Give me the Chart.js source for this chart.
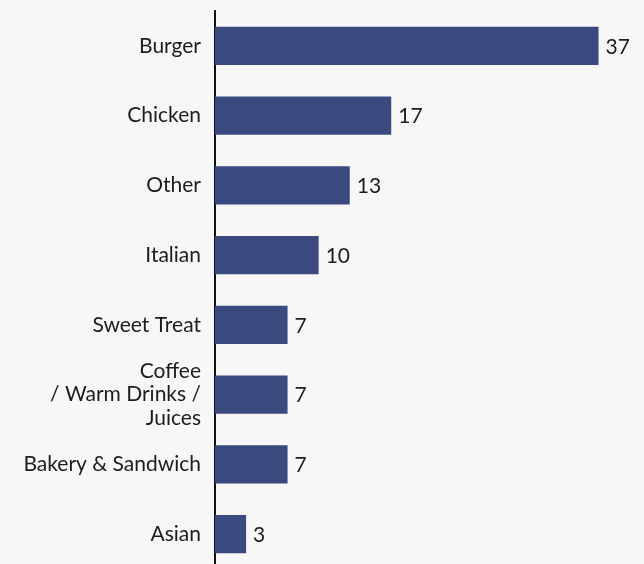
<!DOCTYPE html>
<html>
<head>
<meta charset="utf-8">
<script src="https://cdn.jsdelivr.net/npm/chart.js@4"></script>
<style>
  html, body { margin: 0; padding: 0; background: #f7f7f7; overflow: hidden; }
  #wrap { width: 644px; height: 570px; }
</style>
</head>
<body>
<div id="wrap"><canvas id="chart"></canvas></div>
<script>
const categories = [
  'Burger',
  'Chicken',
  'Other',
  'Italian',
  'Sweet Treat',
  ['Coffee', '/ Warm Drinks /', 'Juices'],
  'Bakery & Sandwich',
  'Asian'
];
const counts = [37, 17, 13, 10, 7, 7, 7, 3];

const barColor = '#3b4a7e';
const textColor = '#1c1c1c';
const fontFamily = 'Lato, "Noto Sans", sans-serif';

// draws the number just right of each bar
const valueLabels = {
  id: 'valueLabels',
  afterDatasetsDraw(chart) {
    const ctx = chart.ctx;
    const meta = chart.getDatasetMeta(0);
    ctx.save();
    ctx.font = '21px ' + fontFamily;
    ctx.fillStyle = textColor;
    ctx.textAlign = 'left';
    ctx.textBaseline = 'middle';
    meta.data.forEach((bar, i) => {
      ctx.fillText(String(counts[i]), bar.x + 7, bar.y + 1);
    });
    ctx.restore();
  }
};

const ctx = document.getElementById('chart').getContext('2d');
const chart = new Chart(ctx, {
  type: 'bar',
  data: {
    labels: categories,
    datasets: [{
      data: counts,
      backgroundColor: barColor,
      barPercentage: 0.545,
      categoryPercentage: 1
    }]
  },
  options: {
    indexAxis: 'y',
    responsive: true,
    maintainAspectRatio: false,
    animation: false,
    layout: { padding: { top: 11, bottom: 1, left: 0, right: 4 } },
    scales: {
      x: {
        display: false,
        min: 0,
        max: 41
      },
      y: {
        afterFit: (scale) => {
          scale.width = 215;
          scale.paddingTop = 0;
          scale.paddingBottom = 0;
        },
        grid: { display: false, drawTicks: false },
        border: { display: true, color: '#111111', width: 2 },
        ticks: {
          autoSkip: false,
          color: textColor,
          padding: 14,
          font: { family: fontFamily, size: 21, lineHeight: 1.12 }
        }
      }
    },
    plugins: {
      legend: { display: false },
      tooltip: { enabled: false }
    }
  },
  plugins: [valueLabels]
});
</script>
</body>
</html>
